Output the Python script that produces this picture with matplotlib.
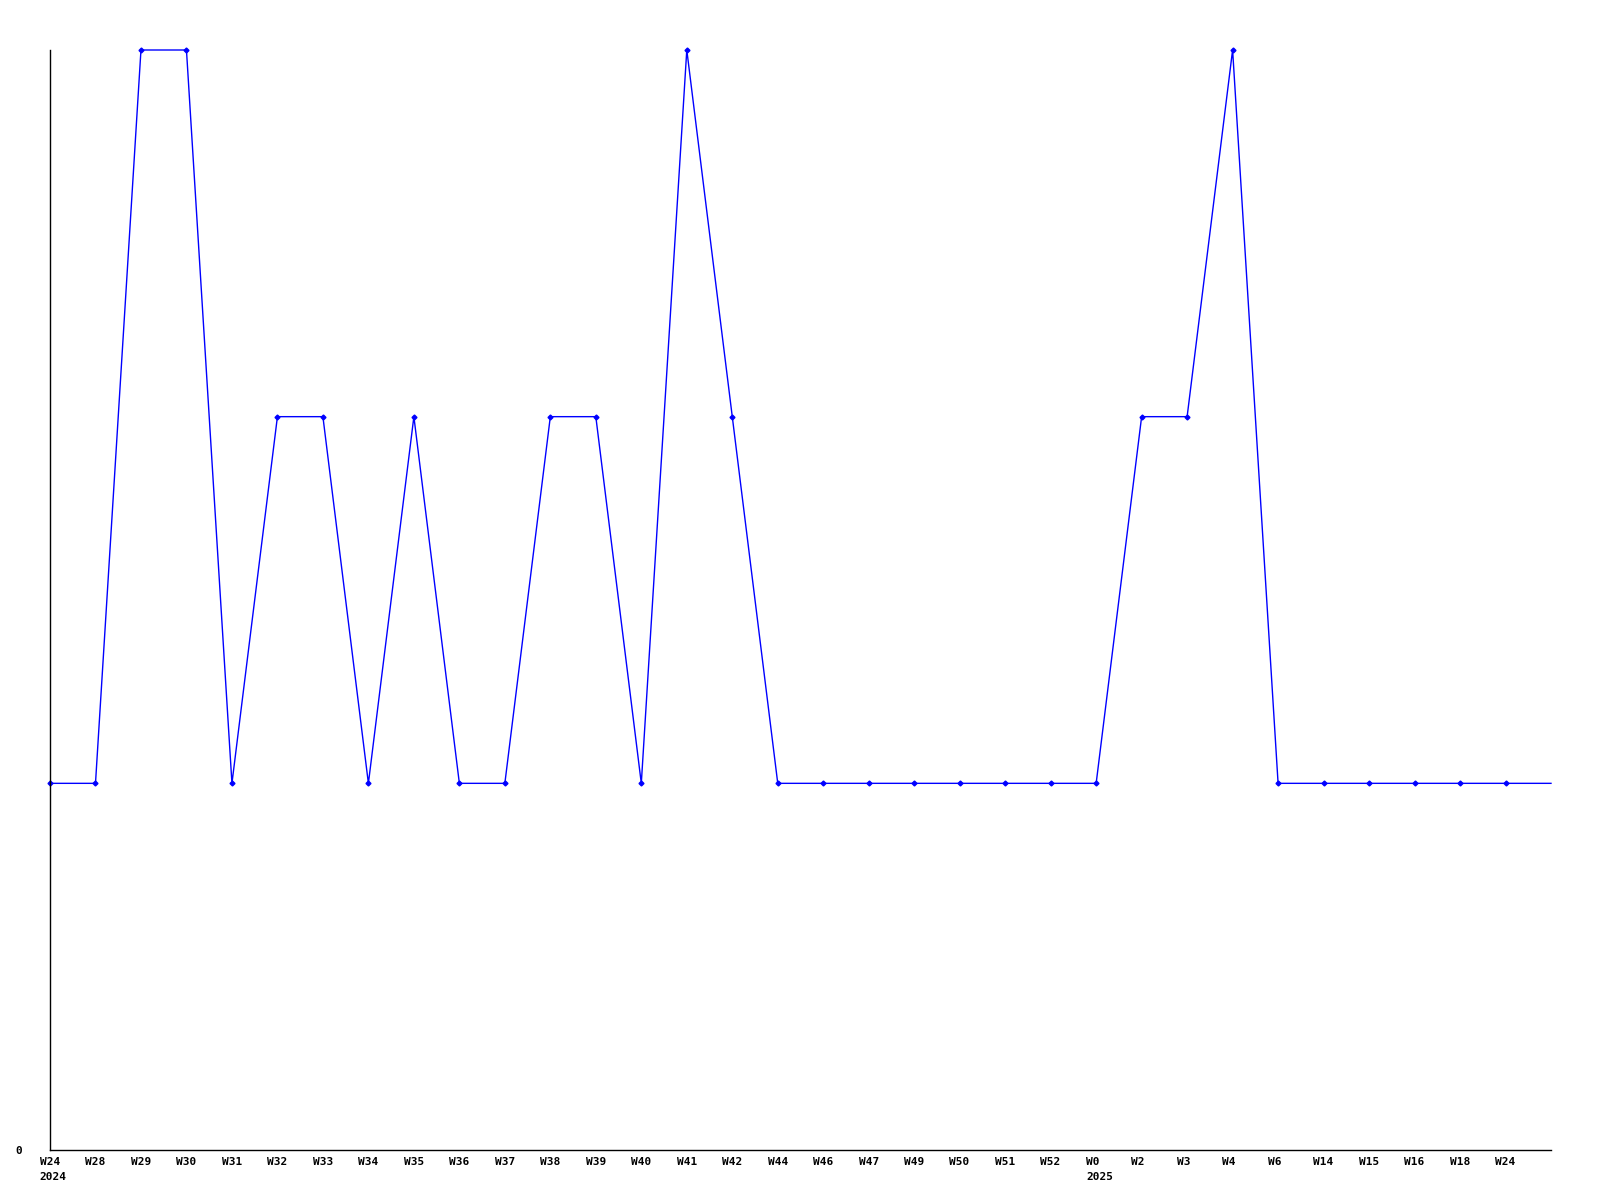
import matplotlib
matplotlib.use("Agg")
import matplotlib.pyplot as plt

weeks = ["W24", "W28", "W29", "W30", "W31", "W32", "W33", "W34", "W35", "W36", "W37",
         "W38", "W39", "W40", "W41", "W42", "W44", "W46", "W47", "W49", "W50", "W51",
         "W52", "W0", "W2", "W3", "W4", "W6", "W14", "W15", "W16", "W18", "W24"]
years = {0: "2024", 23: "2025"}
values = [1, 1, 3, 3, 1, 2, 2, 1, 2, 1, 1,
          2, 2, 1, 3, 2, 1, 1, 1, 1, 1, 1,
          1, 1, 2, 2, 3, 1, 1, 1, 1, 1, 1]
tail_value = 1  # line continues to the right edge

fig = plt.figure(figsize=(16, 12), dpi=100)
ax = fig.add_axes([50/1600, 1 - 1150/1200, 1501/1600, 1100/1200])

xs = list(range(len(values)))
ax.plot(xs + [len(values)], values + [tail_value], color="#0000ff", lw=1.0,
        clip_on=False)
ax.plot(xs, values, linestyle="none", marker="D", markersize=2.5,
        color="#0000ff", clip_on=False)

ax.set_xlim(0, len(values))
ax.set_ylim(0, 3)

font = dict(family="DejaVu Sans Mono", fontweight="bold", fontsize=8)
ax.set_xticks(xs)
ax.set_xticklabels([""] * len(xs))
ax.set_yticks([0])
ax.set_yticklabels(["0"], **font)
ax.tick_params(axis="x", length=0)
ax.tick_params(axis="y", length=0, pad=20)

dx = -10.2 * 0.72  # label left edge sits ~10 px left of the point
for i, w in enumerate(weeks):
    ax.annotate(w, xy=(i, 0), xycoords=("data", "axes fraction"),
                xytext=(dx, -8.8), textcoords="offset points",
                ha="left", va="center", annotation_clip=False, **font)
for i, yr in years.items():
    ax.annotate(yr, xy=(i, 0), xycoords=("data", "axes fraction"),
                xytext=(dx, -19.5), textcoords="offset points",
                ha="left", va="center", annotation_clip=False, **font)

for s in ["top", "right"]:
    ax.spines[s].set_visible(False)
for s in ["left", "bottom"]:
    ax.spines[s].set_color("black")
    ax.spines[s].set_linewidth(1.0)

fig.savefig("out.png", dpi=100, facecolor="white")
